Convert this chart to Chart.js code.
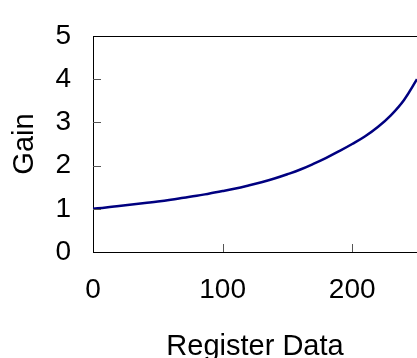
<!DOCTYPE html>
<html>
<head>
<meta charset="utf-8">
<script src="https://cdn.jsdelivr.net/npm/chart.js@4"></script>
<style>
  html, body { margin: 0; padding: 0; background: #fff; }
  #wrap { width: 417px; height: 358px; }
</style>
</head>
<body>
<div id="wrap"><canvas id="chart" width="417" height="358"></canvas></div>
<script>
// values, every 10 register steps
const registerData = [0, 10, 20, 30, 40, 50, 60, 70, 80, 90, 100, 110, 120, 130, 140, 150, 160, 170, 180, 190, 200, 210, 220, 230, 240, 250];
const gain = [1.00, 1.03, 1.065, 1.10, 1.135, 1.17, 1.21, 1.255, 1.30, 1.355, 1.41, 1.47, 1.54, 1.615, 1.70, 1.80, 1.91, 2.04, 2.18, 2.335, 2.50, 2.68, 2.90, 3.17, 3.52, 4.00];
const xTicks = [0, 100, 200];
const yTicks = [0, 1, 2, 3, 4, 5];

const font = { family: "'Liberation Sans', Arial, sans-serif", size: 28, lineHeight: 1 };
const titleFont = { family: "'Liberation Sans', Arial, sans-serif", size: 29, lineHeight: 1 };

// inner tick marks + top frame line
const frame = {
  id: 'frame',
  afterDatasetsDraw(chart) {
    const { ctx, chartArea: a, scales } = chart;
    ctx.save();
    ctx.strokeStyle = '#000';
    ctx.lineWidth = 1;
    ctx.beginPath();
    ctx.moveTo(a.left, a.top + 0.5);
    ctx.lineTo(a.right, a.top + 0.5);
    ctx.stroke();
    ctx.strokeStyle = '#555';
    ctx.beginPath();
    yTicks.slice(1, -1).forEach(v => {
      const y = Math.round(scales.y.getPixelForValue(v)) + 0.5;
      ctx.moveTo(a.left, y);
      ctx.lineTo(a.left + 8, y);
    });
    xTicks.slice(1).forEach(v => {
      const x = Math.round(scales.x.getPixelForValue(v)) + 0.5;
      ctx.moveTo(x, a.bottom);
      ctx.lineTo(x, a.bottom - 8);
    });
    ctx.stroke();
    ctx.restore();
  }
};

new Chart(document.getElementById('chart'), {
  type: 'scatter',
  data: {
    datasets: [{
      data: registerData.map((x, i) => ({ x, y: gain[i] })),
      showLine: true,
      borderColor: '#000080',
      borderWidth: 2.5,
      pointRadius: 0,
      tension: 0.4,
      fill: false
    }]
  },
  options: {
    responsive: false,
    animation: false,
    layout: { padding: { top: 25, right: 0, left: 0, bottom: 0 } },
    plugins: { legend: { display: false }, tooltip: { enabled: false } },
    scales: {
      x: {
        type: 'linear',
        min: 0,
        max: 250,
        afterFit: s => { s.height = 106; },
        afterBuildTicks: s => { s.ticks = xTicks.map(v => ({ value: v })); },
        ticks: { includeBounds: false, padding: 24, color: '#000', font, maxRotation: 0 },
        grid: { drawOnChartArea: false, drawTicks: false },
        border: { display: true, color: '#000', width: 1 },
        title: { display: true, text: 'Register Data', color: '#000', font: titleFont, padding: { top: 0, bottom: -3 } }
      },
      y: {
        min: 0,
        max: 5,
        afterFit: s => { s.width = 93; },
        afterBuildTicks: s => { s.ticks = yTicks.map(v => ({ value: v })); },
        ticks: { padding: 22, color: '#000', font },
        grid: { drawOnChartArea: false, drawTicks: false },
        border: { display: true, color: '#000', width: 1 },
        title: { display: true, text: 'Gain', color: '#000', font: titleFont, padding: { top: 10, bottom: 0 } }
      }
    }
  },
  plugins: [frame]
});
</script>
</body>
</html>
